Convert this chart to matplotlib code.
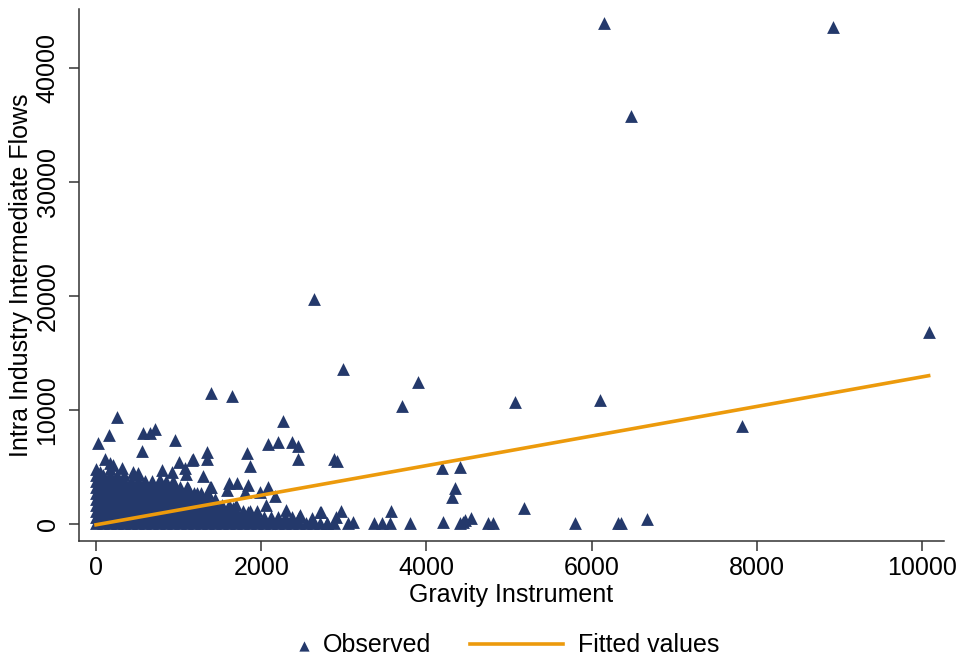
import numpy as np
import matplotlib
matplotlib.use("Agg")
import matplotlib.pyplot as plt

plt.rcParams['font.family'] = ['Liberation Sans', 'DejaVu Sans']

# dense block near the origin, read row by row (y value -> x values)
dense_y = [90, 610, 1140, 1670, 2190, 2720, 3250, 3770, 4300, 4820]
dense_x = [
    [0, 85, 170, 255, 340, 425, 510, 595, 680, 760, 845, 930, 1015, 1100, 1185, 1270, 1355, 1440,
     1525, 1610, 1695, 1780, 1865, 1950, 2035, 2120, 2200, 2285, 2370, 2455, 2540, 2625, 2710, 2795, 2880],
    [0, 85, 170, 255, 340, 425, 510, 595, 680, 760, 845, 930, 1015, 1100, 1185, 1270, 1355, 1440,
     1525, 1610, 1695, 1780, 1865, 1950, 2035, 2120, 2200, 2285, 2370, 2455],
    [0, 85, 170, 255, 340, 425, 510, 595, 680, 760, 845, 930, 1015, 1100, 1185, 1270, 1355, 1440,
     1525, 1610, 1695, 1780, 1865, 1950],
    [0, 85, 170, 255, 340, 425, 510, 595, 680, 760, 845, 930, 1015, 1100, 1185, 1270, 1355, 1440,
     1525, 1610, 1695],
    [0, 85, 170, 255, 340, 425, 510, 595, 680, 760, 845, 930, 1015, 1100, 1185, 1270, 1355, 1440],
    [0, 85, 170, 255, 340, 425, 510, 595, 680, 760, 845, 930, 1015, 1100, 1185, 1270, 1355],
    [0, 85, 170, 255, 340, 425, 510, 595, 680, 760, 845, 930, 1015, 1100],
    [0, 85, 170, 255, 340, 425, 510, 595, 680, 760, 845, 930],
    [0, 85, 170, 255, 340, 510],
    [0, 170],
]

# scattered observations
scatter_pts = [
    (6150, 43940), (8920, 43590), (6475, 35780), (10080, 16840), (2640, 19730), (2990, 13590),
    (3895, 12450), (1390, 11490), (1645, 11230), (3705, 10350), (5070, 10700), (6100, 10875),
    (7815, 8595), (255, 9380), (2265, 9030), (955, 7370), (715, 8330), (570, 7980), (655, 7980),
    (155, 7800), (25, 7100), (2080, 7015), (2200, 7190), (2370, 7190), (2445, 6840), (2445, 5700),
    (2880, 5700), (2915, 5525), (1345, 6315), (1345, 5700), (1175, 5700), (1825, 6225), (1865, 5085),
    (4185, 4910), (4405, 5000), (4345, 3160), (4310, 2370), (5180, 1400), (6665, 440), (6315, 90),
    (6350, 90), (5795, 90), (4745, 90), (4800, 90), (4540, 525), (4405, 90), (4440, 175), (4465, 350),
    (4200, 175), (3800, 90), (3570, 1140), (3555, 90), (3460, 90), (3365, 90), (3110, 175), (3050, 90),
    (2965, 1140), (2905, 615), (2795, 90), (2725, 1050), (2615, 525), (2470, 790),
    (1295, 4210), (1390, 3245), (1610, 3595), (1705, 3595), (1840, 3420), (1585, 2980), (1805, 2805),
    (1985, 2805), (2080, 3245), (2165, 2455), (2055, 1665), (2300, 1230), (1660, 1405), (1840, 1050),
    (1220, 2720), (2710, 1050),
    (555, 6400), (110, 5700), (170, 5350), (315, 4910), (50, 4560), (205, 5175), (800, 4735),
    (920, 4560), (1005, 5435), (1160, 5615), (1075, 4910), (1090, 4385), (510, 4475), (450, 4560),
    (775, 3860), (930, 3685), (1115, 3160), (1380, 3245), (1015, 2805),
]

# fitted values line (end points)
fit_x = [0, 10080]
fit_y = [-70, 13010]

x_ticks = [0, 2000, 4000, 6000, 8000, 10000]
y_ticks = [0, 10000, 20000, 30000, 40000]

obs_x = [x for row, y in zip(dense_x, dense_y) for x in row] + [p[0] for p in scatter_pts]
obs_y = [y for row, y in zip(dense_x, dense_y) for x in row] + [p[1] for p in scatter_pts]

navy = '#24396B'
orange = '#EC9A0C'
fs = 18

fig = plt.figure(figsize=(9.62, 6.62), dpi=100)
ax = fig.add_axes([79 / 962, 1 - 541 / 662, 865 / 962, 532 / 662])

sc = ax.scatter(obs_x, obs_y, marker='^', s=85, color=navy, linewidths=0, label='Observed', zorder=2)
ln, = ax.plot(fit_x, fit_y, color=orange, lw=2.6, label='Fitted values', zorder=3)

ax.set_xlim(-206, 10266)
ax.set_ylim(-1491, 45175)
ax.set_xticks(x_ticks)
ax.set_yticks(y_ticks)
ax.tick_params(axis='both', labelsize=fs, length=7, width=1.1, color='#333333', direction='out')
ax.tick_params(axis='y', labelrotation=90, pad=7)
ax.tick_params(axis='x', pad=4)
for lbl in ax.get_yticklabels():
    lbl.set_va('center')

for s in ['top', 'right']:
    ax.spines[s].set_visible(False)
for s in ['left', 'bottom']:
    ax.spines[s].set_linewidth(1.1)
    ax.spines[s].set_color('#333333')

ax.set_xlabel('Gravity Instrument', fontsize=fs, labelpad=2)
ax.set_ylabel('Intra Industry Intermediate Flows', fontsize=fs, labelpad=2)

fig.legend(handles=[sc], loc='center left', bbox_to_anchor=(295 / 962, 0.025), frameon=False,
           fontsize=fs, handlelength=0.7, handletextpad=0.4, borderpad=0, borderaxespad=0,
           markerscale=0.8)
fig.legend(handles=[ln], loc='center left', bbox_to_anchor=(470 / 962, 0.025), frameon=False,
           fontsize=fs, handlelength=3.7, handletextpad=0.6, borderpad=0, borderaxespad=0)

fig.savefig('out.png', dpi=100)
